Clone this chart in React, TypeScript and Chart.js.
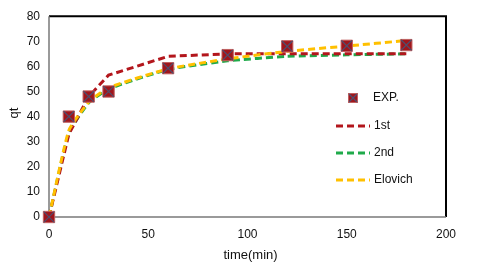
import React, { useEffect, useRef } from "react";
import { Chart, registerables } from "chart.js";

Chart.register(...registerables);

const times = [0, 10, 20, 30, 60, 90, 120, 150, 180];
const expValues = [0, 40, 48, 50, 59.3, 64.5, 68, 68.2, 68.5];
const firstOrder = [0, 33, 48, 56.5, 64, 65, 65, 65, 65];
const secondOrder = [0, 33.5, 45.5, 51, 58.8, 62.2, 64, 64.6, 65];
const elovich = [0, 34.5, 45.8, 51.5, 59, 63, 66, 68.1, 70.3];
const xTicks = [0, 50, 100, 150, 200];
const yTicks = [0, 10, 20, 30, 40, 50, 60, 70, 80];
const legendLabels = ["EXP.", "1st", "2nd", "Elovich"];

const RED = "#b3161c";
const GREEN = "#1faa4a";
const YELLOW = "#ffc000";
const MARK = "#a0161c";
const XCOL = "#4d5070";
const FONT = "'Liberation Sans', Arial, sans-serif";

const pts = (vals: number[]) => vals.map((v, i) => ({ x: times[i], y: v }));

const decorPlugin = {
  id: "decor",
  beforeDatasetsDraw(chart: any) {
    const { ctx, chartArea } = chart;
    const { left, right, top, bottom } = chartArea;
    ctx.save();
    ctx.strokeStyle = "#000";
    ctx.lineWidth = 2;
    ctx.beginPath();
    ctx.moveTo(left, top);
    ctx.lineTo(right, top);
    ctx.lineTo(right, bottom);
    ctx.stroke();
    ctx.strokeStyle = "#7a7a7a";
    ctx.lineWidth = 1.5;
    ctx.beginPath();
    ctx.moveTo(left, top);
    ctx.lineTo(left, bottom);
    ctx.lineTo(right, bottom);
    ctx.stroke();
    ctx.restore();
  },
  afterDraw(chart: any) {
    const { ctx, chartArea } = chart;
    const { left, right } = chartArea;
    ctx.save();
    ctx.fillStyle = "#111";
    ctx.font = `13px ${FONT}`;
    ctx.textAlign = "center";
    ctx.textBaseline = "middle";
    ctx.fillText("time(min)", (left + right) / 2 + 3, 255);
    ctx.save();
    ctx.translate(14, 113);
    ctx.rotate(-Math.PI / 2);
    ctx.fillText("qt", 0, 0);
    ctx.restore();

    const lx = 336;
    const lw = 34;
    const ys = [98, 126, 153, 180];
    const mx = 353;
    const my = ys[0];
    ctx.fillStyle = MARK;
    ctx.fillRect(mx - 4.5, my - 4.5, 9, 9);
    ctx.strokeStyle = "#c06060";
    ctx.lineWidth = 1;
    ctx.strokeRect(mx - 4.5, my - 4.5, 9, 9);
    ctx.strokeStyle = XCOL;
    ctx.lineWidth = 1.2;
    ctx.beginPath();
    ctx.moveTo(mx - 4, my - 4);
    ctx.lineTo(mx + 4, my + 4);
    ctx.moveTo(mx + 4, my - 4);
    ctx.lineTo(mx - 4, my + 4);
    ctx.stroke();
    const cols = [RED, GREEN, YELLOW];
    for (let i = 0; i < 3; i++) {
      ctx.strokeStyle = cols[i];
      ctx.lineWidth = 3;
      ctx.setLineDash([7, 4]);
      ctx.beginPath();
      ctx.moveTo(lx, ys[i + 1]);
      ctx.lineTo(lx + lw, ys[i + 1]);
      ctx.stroke();
    }
    ctx.setLineDash([]);
    ctx.fillStyle = "#111";
    ctx.font = `12px ${FONT}`;
    ctx.textAlign = "left";
    ctx.textBaseline = "middle";
    ctx.fillText(legendLabels[0], 373, ys[0]);
    for (let i = 1; i < 4; i++) ctx.fillText(legendLabels[i], 374, ys[i]);
    ctx.restore();
  },
};

export default function App() {
  const ref = useRef<HTMLCanvasElement>(null);
  useEffect(() => {
    if (!ref.current) return;
    const lineDs = (label: string, vals: number[], color: string, order: number, tension: number) => ({
      label,
      data: pts(vals),
      borderColor: color,
      backgroundColor: color,
      borderWidth: 3,
      borderDash: [7, 4],
      pointRadius: 0,
      showLine: true,
      tension,
      clip: false,
      order,
    });
    const chart = new Chart(ref.current, {
      type: "scatter",
      data: {
        datasets: [
          {
            label: "EXP.",
            data: pts(expValues),
            pointStyle: "rect",
            pointRadius: 8,
            pointBackgroundColor: MARK,
            pointBorderColor: "#c06060",
            pointBorderWidth: 1,
            showLine: false,
            clip: false,
            order: 1,
          } as any,
          {
            label: "EXPx",
            data: pts(expValues),
            pointStyle: "crossRot",
            pointRadius: 7.5,
            pointBorderColor: XCOL,
            pointBorderWidth: 1.2,
            showLine: false,
            clip: false,
            order: 0,
          } as any,
          lineDs("1st", firstOrder, RED, 3, 0),
          lineDs("2nd", secondOrder, GREEN, 4, 0.15),
          lineDs("Elovich", elovich, YELLOW, 2, 0.15),
        ] as any,
      },
      options: {
        responsive: false,
        animation: false,
        layout: { padding: { top: 11, right: 34, left: 0, bottom: 0 } },
        plugins: { legend: { display: false }, tooltip: { enabled: false } },
        scales: {
          x: {
            type: "linear",
            min: 0,
            max: 200,
            afterFit: (s: any) => {
              s.height = 55;
            },
            afterBuildTicks: (s: any) => {
              s.ticks = xTicks.map((v) => ({ value: v }));
            },
            grid: { display: false, drawTicks: false },
            border: { display: false },
            ticks: { padding: 10, color: "#111", font: { family: FONT, size: 12 }, maxRotation: 0 },
          },
          y: {
            type: "linear",
            min: 0,
            max: 80,
            afterFit: (s: any) => {
              s.width = 49;
            },
            afterBuildTicks: (s: any) => {
              s.ticks = yTicks.map((v) => ({ value: v }));
            },
            grid: { display: false, drawTicks: false },
            border: { display: false },
            ticks: { padding: 9, color: "#111", font: { family: FONT, size: 12 } },
          },
        },
      },
      plugins: [decorPlugin],
    });
    return () => chart.destroy();
  }, []);
  return (
    <div style={{ position: "absolute", left: 0, top: 0, width: 480, height: 272, background: "#fff" }}>
      <canvas ref={ref} width={480} height={272} />
    </div>
  );
}
